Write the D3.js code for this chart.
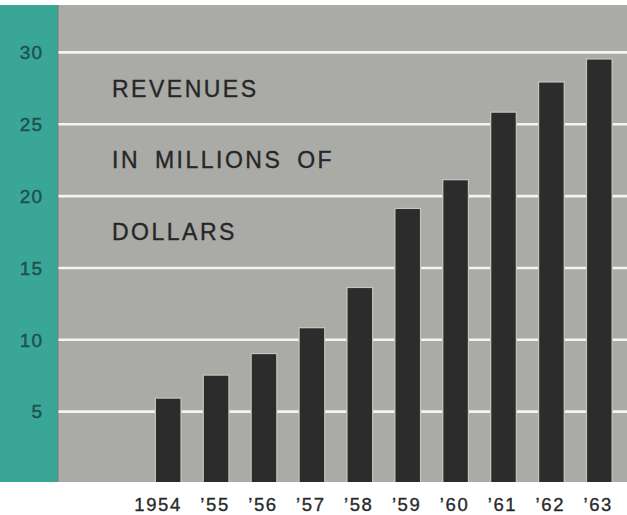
<!DOCTYPE html>
<html>
<head>
<meta charset="utf-8">
<script src="https://cdn.jsdelivr.net/npm/d3@7/dist/d3.min.js"></script>
<style>
  html, body { margin: 0; padding: 0; background: #ffffff; }
  svg { display: block; }
</style>
</head>
<body>
<svg id="chart" width="627" height="515"></svg>
<script>
// Annual revenues, millions of dollars
const years = ["1954", "1955", "1956", "1957", "1958", "1959", "1960", "1961", "1962", "1963"];
const yearLabels = ["1954", "\u201955", "\u201956", "\u201957", "\u201958", "\u201959", "\u201960", "\u201961", "\u201962", "\u201963"];
const revenues = [5.9, 7.5, 9.0, 10.8, 13.6, 19.1, 21.1, 25.8, 27.9, 29.5];
const yTicks = [5, 10, 15, 20, 25, 30];
const titleLines = ["REVENUES", "IN MILLIONS OF", "DOLLARS"];

const W = 627, H = 515;
const panelTop = 5, panelBottom = 482, stripRight = 58;
const font = "'Liberation Sans', Arial, Helvetica, sans-serif";

const svg = d3.select("#chart");

const y = d3.scaleLinear().domain([0, 30]).range([483.5, 52.4]);
const x = d3.scaleBand().domain(years).range([132.5, 635]).padding(0.49);

// teal axis strip
svg.append("rect")
  .attr("x", 0).attr("y", panelTop)
  .attr("width", stripRight).attr("height", panelBottom - panelTop)
  .attr("fill", "#39a697");

// grey plotting panel
svg.append("rect")
  .attr("x", stripRight).attr("y", panelTop)
  .attr("width", W - stripRight).attr("height", panelBottom - panelTop)
  .attr("fill", "#aaaaa6");

svg.append("line")
  .attr("x1", stripRight).attr("x2", stripRight)
  .attr("y1", panelTop).attr("y2", panelBottom)
  .attr("stroke", "#6f7f7a").attr("stroke-width", 1);

// white gridlines
svg.append("g")
  .selectAll("line")
  .data(yTicks)
  .join("line")
  .attr("x1", stripRight + 0.5).attr("x2", W)
  .attr("y1", d => y(d)).attr("y2", d => y(d))
  .attr("stroke", "#f4f4f0").attr("stroke-width", 2.6);

// y tick labels in the strip
svg.append("g")
  .selectAll("text")
  .data(yTicks)
  .join("text")
  .attr("x", 43)
  .attr("y", d => y(d))
  .attr("dy", "0.36em")
  .attr("text-anchor", "end")
  .attr("font-family", font)
  .attr("font-size", 19)
  .attr("letter-spacing", 1)
  .attr("fill", "#1d514c")
  .attr("stroke", "#1d514c").attr("stroke-width", 0.4)
  .text(d => d);

// title lines sit between the gridlines
svg.append("g")
  .selectAll("text")
  .data(titleLines)
  .join("text")
  .attr("x", 112)
  .attr("y", (d, i) => (y(30 - 5 * i) + y(25 - 5 * i)) / 2)
  .attr("dy", "0.36em")
  .attr("font-family", font)
  .attr("font-size", 23)
  .attr("letter-spacing", 2.5)
  .attr("word-spacing", 6)
  .attr("fill", "#262626")
  .attr("stroke", "#262626").attr("stroke-width", 0.35)
  .text(d => d);

// bars with a faint light halo
const bars = svg.append("g");
bars.selectAll("rect.halo")
  .data(revenues)
  .join("rect")
  .attr("class", "halo")
  .attr("x", (d, i) => x(years[i]) - 1.2)
  .attr("y", d => y(d) - 1.2)
  .attr("width", x.bandwidth() + 2.4)
  .attr("height", d => panelBottom - y(d) + 1.2)
  .attr("fill", "#c4c4c0");
bars.selectAll("rect.bar")
  .data(revenues)
  .join("rect")
  .attr("class", "bar")
  .attr("x", (d, i) => x(years[i]))
  .attr("y", d => y(d))
  .attr("width", x.bandwidth())
  .attr("height", d => panelBottom - y(d))
  .attr("fill", "#2c2c2c");

// year labels, right-aligned under each bar
svg.append("g")
  .selectAll("text")
  .data(yearLabels)
  .join("text")
  .attr("x", (d, i) => x(years[i]) + x.bandwidth() + 1.5)
  .attr("y", 511)
  .attr("text-anchor", "end")
  .attr("font-family", font)
  .attr("font-size", 18.5)
  .attr("letter-spacing", 1.6)
  .attr("fill", "#2a2a2a")
  .attr("stroke", "#2a2a2a").attr("stroke-width", 0.35)
  .text(d => d);
</script>
</body>
</html>
